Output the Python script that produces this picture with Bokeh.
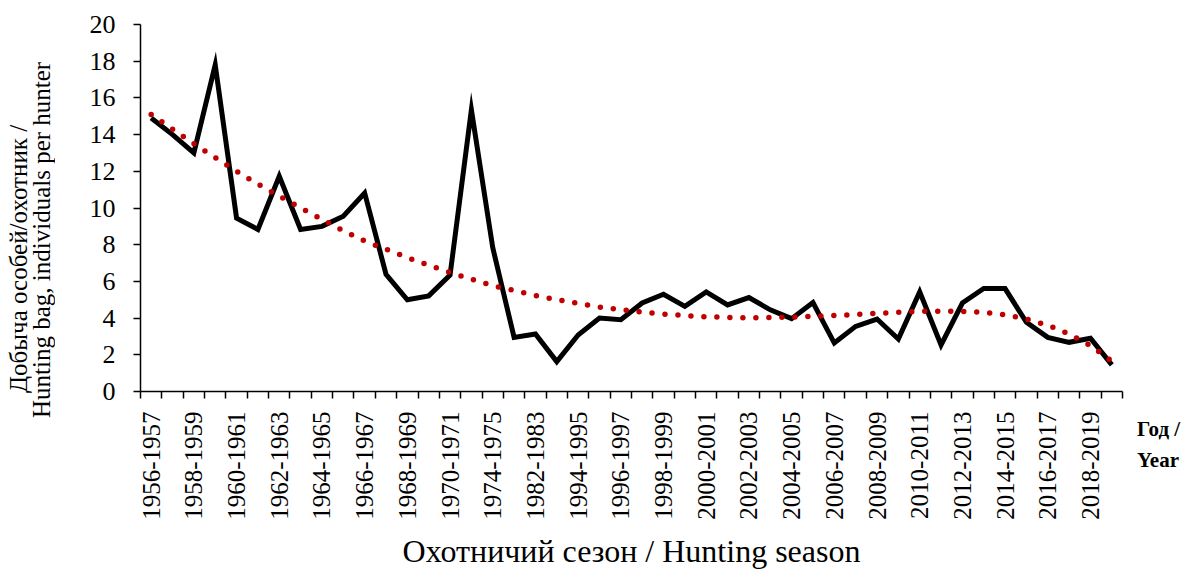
from bokeh.plotting import figure
from bokeh.models import FixedTicker, Range1d, ColumnDataSource, Div
from bokeh.layouts import row
from bokeh.embed import file_html
from bokeh.resources import INLINE

seasons = [
    "1956-1957", "1957-1958", "1958-1959", "1959-1960", "1960-1961", "1961-1962",
    "1962-1963", "1963-1964", "1964-1965", "1965-1966", "1966-1967", "1967-1968",
    "1968-1969", "1969-1970", "1970-1971", "1972-1973", "1974-1975", "1975-1976",
    "1982-1983", "1983-1984", "1994-1995", "1995-1996", "1996-1997", "1997-1998",
    "1998-1999", "1999-2000", "2000-2001", "2001-2002", "2002-2003", "2003-2004",
    "2004-2005", "2005-2006", "2006-2007", "2007-2008", "2008-2009", "2009-2010",
    "2010-2011", "2011-2012", "2012-2013", "2013-2014", "2014-2015", "2015-2016",
    "2016-2017", "2017-2018", "2018-2019", "2019-2020",
]

bag_per_hunter = [
    14.9, 14.0, 13.0, 17.8, 9.45, 8.83, 11.73, 8.83, 9.0, 9.55, 10.82, 6.39,
    5.0, 5.21, 6.34, 15.35, 7.84, 2.95, 3.13, 1.63, 3.08, 4.0, 3.91, 4.82,
    5.3, 4.64, 5.43, 4.72, 5.12, 4.45, 3.97, 4.85, 2.64, 3.55, 3.95, 2.86,
    5.43, 2.54, 4.82, 5.61, 5.61, 3.77, 2.95, 2.68, 2.9, 1.45,
]

trend = [
    15.1, 14.3, 13.5, 12.75, 12.0, 11.3, 10.65, 10.0, 9.38, 8.76, 8.2, 7.75,
    7.3, 6.88, 6.49, 6.12, 5.77, 5.5, 5.23, 5.01, 4.8, 4.6, 4.46, 4.33,
    4.22, 4.14, 4.07, 4.04, 4.02, 4.03, 4.05, 4.09, 4.14, 4.2, 4.26, 4.32,
    4.37, 4.38, 4.37, 4.31, 4.18, 3.95, 3.61, 3.13, 2.5, 1.65,
]

y_ticks = [0, 2, 4, 6, 8, 10, 12, 14, 16, 18, 20]

y_title_lines = ["Добыча особей/охотник /", "Hunting bag, individuals per hunter"]
x_title = "Охотничий сезон / Hunting season"
year_lines = ["Год /", "Year"]

n = len(seasons)
xs = [i + 0.5 for i in range(n)]
src = ColumnDataSource(dict(x=xs, bag=bag_per_hunter, trend=trend))

FONT = "Liberation Serif"

p = figure(width=1075, height=571, output_backend="svg", toolbar_location=None,
           x_range=Range1d(0, n), y_range=Range1d(0, 20),
           min_border_left=80, min_border_right=13, min_border_top=24,
           min_border_bottom=178)
p.outline_line_color = None
p.xgrid.visible = False
p.ygrid.visible = False
p.background_fill_color = "white"
p.border_fill_color = "white"

p.line("x", "bag", source=src, line_color="black", line_width=5, line_join="miter")
p.line("x", "trend", source=src, line_color="#C00000", line_width=5.5,
       line_dash="0 13", line_cap="round")

# x axis
xax = p.xaxis[0]
xax.ticker = FixedTicker(ticks=[xs[i] for i in range(0, n, 2)],
                         minor_ticks=list(range(n + 1)))
xax.major_label_overrides = {xs[i]: seasons[i] for i in range(0, n, 2)}
xax.major_label_orientation = 1.5707963267948966
xax.major_tick_out = 0
xax.major_tick_in = 0
xax.minor_tick_out = 7
xax.minor_tick_in = 0
xax.minor_tick_line_color = "black"
xax.minor_tick_line_width = 1.5
xax.axis_line_color = "black"
xax.axis_line_width = 1.5
xax.major_label_text_font = FONT
xax.major_label_text_font_size = "25px"
xax.major_label_text_color = "black"
xax.major_label_standoff = 13
xax.axis_label = x_title
xax.axis_label_text_font = FONT
xax.axis_label_text_font_size = "32px"
xax.axis_label_text_font_style = "normal"
xax.axis_label_text_color = "black"
xax.axis_label_standoff = 10

# y axis
yax = p.yaxis[0]
yax.ticker = FixedTicker(ticks=y_ticks)
yax.major_tick_out = 7
yax.major_tick_in = 0
yax.minor_tick_out = 0
yax.minor_tick_in = 0
yax.major_tick_line_width = 1.5
yax.axis_line_width = 1.5
yax.axis_line_color = "black"
yax.major_label_text_font = FONT
yax.major_label_text_font_size = "26px"
yax.major_label_text_color = "black"
yax.major_label_standoff = 18

# y axis title (two rotated lines) in a Div to the left of the figure
vstyle = ("position:absolute; width:22px; height:400px; line-height:22px; "
          "writing-mode:vertical-rl; transform:rotate(180deg); text-align:center; "
          "white-space:nowrap;")
left_html = (
    '<div style="position:relative; width:60px; height:571px; '
    "font-family:'Liberation Serif'; font-size:25px; color:black;\">"
    f'<div style="{vstyle} left:8px; top:59px;">{y_title_lines[0]}</div>'
    f'<div style="{vstyle} left:31px; top:40px;">{y_title_lines[1]}</div>'
    '</div>'
)
left_div = Div(text=left_html, width=60, height=571, margin=0)

right_html = (
    '<div style="padding-top:414px; padding-left:2px; '
    "font-family:'Liberation Serif'; font-weight:bold; font-size:21px; "
    'line-height:31px; white-space:nowrap; color:black;">'
    f'{year_lines[0]}<br>{year_lines[1]}</div>'
)
right_div = Div(text=right_html, width=51, height=571, margin=0)

open("out.html", "w").write(file_html(row(left_div, p, right_div), INLINE))
